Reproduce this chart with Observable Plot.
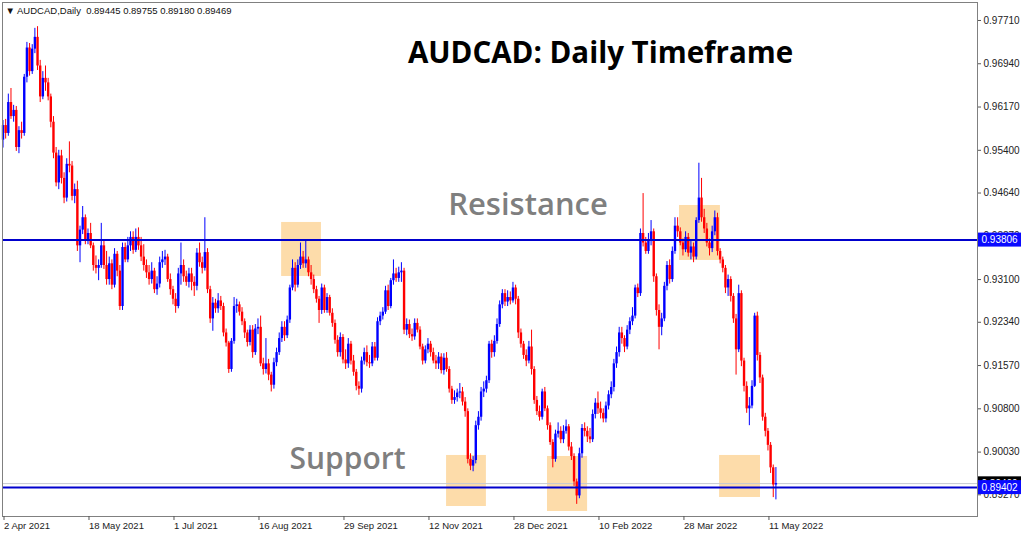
<!DOCTYPE html>
<html><head><meta charset="utf-8">
<script src="https://cdn.jsdelivr.net/npm/d3@7"></script>
<script src="https://cdn.jsdelivr.net/npm/@observablehq/plot@0.6"></script>
<style>
html,body{margin:0;padding:0;background:#fff;}
#chart{width:1024px;height:536px;overflow:hidden;}
</style></head><body><div id="chart"></div>
<script>
// ---- data (prices in pips: value / 10000) ----
const symbol = "AUDCAD,Daily";
const title = "AUDCAD: Daily Timeframe";
const labelResistance = "Resistance";
const labelSupport = "Support";

const opens = [
9558,9584,9570,9625,9600,9611,9545,9575,9570,9670,
9722,9680,9720,9741,9690,9635,9668,9660,9635,9590,
9535,9482,9530,9490,9455,9515,9512,9458,9470,9370,
9398,9420,9380,9392,9370,9335,9330,9335,9370,9335,
9310,9338,9300,9355,9325,9262,9367,9345,9370,9385,
9362,9385,9370,9350,9335,9322,9310,9325,9292,9302,
9340,9345,9350,9310,9292,9275,9262,9320,9335,9315,
9305,9320,9305,9298,9357,9340,9330,9358,9292,9240,
9268,9258,9272,9262,9215,9197,9150,9200,9262,9265,
9252,9235,9215,9198,9220,9180,9222,9225,9160,9150,
9160,9140,9122,9162,9180,9205,9225,9210,9238,9295,
9330,9300,9335,9350,9338,9345,9322,9310,9292,9275,
9255,9295,9255,9278,9250,9232,9202,9180,9207,9167,
9160,9195,9165,9145,9120,9115,9165,9180,9162,9160,
9190,9170,9235,9245,9252,9290,9262,9308,9320,9312,
9322,9325,9220,9230,9212,9208,9232,9220,9190,9165,
9185,9195,9180,9165,9160,9172,9148,9170,9150,9115,
9095,9100,9108,9110,9092,9075,8990,8978,8988,9050,
9065,9110,9115,9130,9195,9180,9200,9230,9265,9285,
9270,9278,9272,9295,9275,9215,9195,9175,9165,9190,
9150,9095,9075,9065,9110,9080,9050,9020,8990,9035,
9040,9025,9040,9048,9012,8995,8950,8925,9000,9045,
9040,9030,9025,9070,9090,9080,9072,9062,9085,9105,
9118,9160,9180,9215,9205,9190,9220,9235,9245,9295,
9285,9392,9375,9360,9380,9395,9315,9255,9225,9240,
9298,9335,9310,9360,9405,9395,9375,9363,9385,9357,
9368,9350,9415,9455,9420,9400,9375,9365,9395,9420,
9360,9345,9330,9295,9310,9280,9240,9185,9285,9165,
9120,9080,9085,9120,9245,9175,9135,9065,9040,9015,
8975,8944.5];
const highs = [
9593,9595,9640,9650,9620,9618,9582,9590,9675,9732,
9730,9728,9757,9760,9700,9680,9690,9668,9640,9600,
9545,9540,9540,9500,9525,9555,9520,9480,9485,9405,
9440,9425,9400,9410,9375,9352,9345,9410,9380,9360,
9350,9345,9365,9360,9335,9375,9375,9385,9395,9395,
9400,9402,9385,9372,9345,9335,9340,9330,9315,9350,
9360,9362,9355,9320,9298,9285,9330,9375,9345,9325,
9330,9330,9315,9365,9375,9350,9420,9365,9298,9278,
9275,9285,9280,9268,9222,9200,9205,9278,9275,9270,
9260,9240,9220,9228,9228,9230,9240,9245,9170,9205,
9168,9145,9170,9188,9215,9235,9235,9245,9300,9345,
9340,9345,9375,9360,9378,9350,9335,9318,9298,9280,
9302,9300,9285,9282,9258,9238,9210,9215,9212,9185,
9205,9200,9175,9150,9128,9172,9188,9192,9175,9198,
9198,9242,9252,9260,9298,9300,9312,9345,9330,9332,
9340,9330,9240,9238,9222,9240,9240,9226,9195,9192,
9205,9200,9188,9175,9180,9178,9178,9180,9155,9120,
9112,9115,9125,9118,9100,9080,9000,8995,9058,9075,
9118,9128,9138,9200,9202,9210,9240,9272,9292,9292,
9290,9288,9305,9300,9280,9222,9200,9185,9200,9220,
9155,9102,9085,9115,9118,9085,9055,9025,9042,9055,
9048,9050,9060,9052,9020,9000,8955,9010,9052,9055,
9048,9045,9078,9098,9110,9092,9080,9092,9112,9128,
9168,9190,9225,9225,9210,9228,9242,9260,9300,9302,
9400,9463,9385,9392,9415,9400,9320,9265,9250,9305,
9342,9345,9368,9420,9420,9402,9382,9395,9392,9378,
9375,9420,9517,9490,9435,9410,9382,9405,9432,9428,
9365,9350,9335,9318,9315,9285,9248,9300,9290,9170,
9128,9100,9130,9250,9252,9180,9140,9072,9045,9020,
8980,8975.5];
const lows = [
9544,9560,9565,9595,9590,9538,9534,9560,9565,9660,
9672,9675,9712,9682,9625,9630,9645,9628,9580,9525,
9475,9470,9480,9445,9448,9500,9450,9445,9360,9340,
9390,9372,9372,9365,9325,9320,9308,9330,9328,9300,
9300,9292,9295,9315,9255,9255,9340,9340,9360,9355,
9358,9362,9342,9325,9312,9300,9302,9285,9282,9295,
9330,9335,9305,9282,9265,9250,9258,9300,9305,9298,
9295,9290,9280,9290,9332,9320,9325,9285,9232,9218,
9250,9250,9255,9208,9190,9143,9145,9195,9250,9245,
9228,9205,9190,9192,9170,9175,9212,9155,9140,9142,
9130,9110,9115,9155,9175,9198,9200,9205,9232,9290,
9288,9295,9328,9330,9330,9315,9300,9285,9268,9232,
9248,9250,9250,9245,9225,9195,9172,9172,9160,9150,
9152,9158,9138,9112,9104,9108,9158,9155,9152,9155,
9165,9165,9228,9238,9248,9255,9258,9300,9305,9305,
9305,9212,9210,9205,9200,9202,9215,9185,9158,9160,
9178,9172,9160,9150,9150,9142,9140,9145,9108,9088,
9088,9092,9098,9085,9065,8982,8970,8968,8982,9042,
9058,9100,9108,9125,9170,9172,9195,9225,9258,9262,
9262,9265,9268,9265,9205,9188,9168,9155,9160,9140,
9088,9068,9058,9060,9075,9042,9015,8975,8985,9028,
9018,9018,9035,9005,8988,8942,8910,8920,8992,9030,
9020,9018,9020,9062,9070,9062,9055,9055,9078,9098,
9110,9152,9172,9195,9180,9185,9212,9228,9240,9278,
9280,9368,9355,9355,9370,9305,9245,9185,9210,9235,
9290,9302,9305,9355,9385,9370,9352,9358,9350,9345,
9340,9345,9410,9412,9392,9368,9352,9358,9388,9352,
9338,9322,9285,9280,9270,9232,9140,9180,9155,9110,
9072,9050,9080,9118,9165,9125,9058,9030,9005,8965,
8922,8918];
const closes = [
9584,9570,9625,9600,9611,9545,9575,9570,9670,9722,
9680,9720,9741,9690,9635,9668,9660,9635,9590,9535,
9482,9530,9490,9455,9515,9512,9458,9470,9370,9398,
9420,9380,9392,9370,9335,9330,9335,9370,9335,9310,
9338,9300,9355,9325,9262,9367,9345,9370,9385,9362,
9385,9370,9350,9335,9322,9310,9325,9292,9302,9340,
9345,9350,9310,9292,9275,9262,9320,9335,9315,9305,
9320,9305,9298,9357,9340,9330,9358,9292,9240,9268,
9258,9272,9262,9215,9197,9150,9200,9262,9265,9252,
9235,9215,9198,9220,9180,9222,9225,9160,9150,9160,
9140,9122,9162,9180,9205,9225,9210,9238,9295,9330,
9300,9335,9350,9338,9345,9322,9310,9292,9275,9255,
9295,9255,9278,9250,9232,9202,9180,9207,9167,9160,
9195,9165,9145,9120,9115,9165,9180,9162,9160,9190,
9170,9235,9245,9252,9290,9262,9308,9320,9312,9322,
9325,9220,9230,9212,9208,9232,9220,9190,9165,9185,
9195,9180,9165,9160,9172,9148,9170,9150,9115,9095,
9100,9108,9110,9092,9075,8990,8978,8988,9050,9065,
9110,9115,9130,9195,9180,9200,9230,9265,9285,9270,
9278,9272,9295,9275,9215,9195,9175,9165,9190,9150,
9095,9075,9065,9110,9080,9050,9020,8990,9035,9040,
9025,9040,9048,9012,8995,8950,8925,9000,9045,9040,
9030,9025,9070,9090,9080,9072,9062,9085,9105,9118,
9160,9180,9215,9205,9190,9220,9235,9245,9295,9285,
9392,9375,9360,9380,9395,9315,9255,9225,9240,9298,
9335,9310,9360,9405,9395,9375,9363,9385,9357,9368,
9350,9415,9455,9420,9400,9375,9365,9395,9420,9360,
9345,9330,9295,9310,9280,9240,9185,9285,9165,9120,
9080,9085,9120,9245,9175,9135,9065,9040,9015,8975,
8944.5,8946.9];

// x-axis: bar index of each date label
const tickIdx = [0, 32, 64, 96, 128, 160, 192, 224, 256, 288];
const dateLabels = ["2 Apr 2021","18 May 2021","1 Jul 2021","16 Aug 2021","29 Sep 2021",
                    "12 Nov 2021","28 Dec 2021","10 Feb 2022","28 Mar 2022","11 May 2022"];
const yTicks = [0.97710,0.96940,0.96170,0.95400,0.94640,0.93870,0.93100,0.92340,0.91570,0.90800,0.90030,0.89270];

const resistance = 0.93806;
const support = 0.89402;
const bid = 0.89469;

// highlighted zones: bar-index span and price span
const zoneStart = [104.9, 254.7, 167.0, 205.0, 269.8];
const zoneEnd   = [119.9, 270.1, 182.0, 220.1, 285.2];
const zoneTop   = [0.94116, 0.94418, 0.89970, 0.89952, 0.89970];
const zoneBottom= [0.93155, 0.93440, 0.89062, 0.88973, 0.89222];

// ---- build tables ----
const bars = closes.map((c, i) => ({
  i, open: opens[i] / 1e4, high: highs[i] / 1e4, low: lows[i] / 1e4, close: c / 1e4
}));
const zones = zoneStart.map((s, k) => ({i1: s, i2: zoneEnd[k], p1: zoneTop[k], p2: zoneBottom[k]}));
const last = bars[bars.length - 1];
const fmt = d3.format(".5f");
const header = `\u25BC ${symbol}  ${fmt(last.open)} ${fmt(last.high)} ${fmt(last.low)} ${fmt(last.close)}`;
const tags = [resistance, bid, support];
const tagFill = ["#0a0aff", "#000000", "#0a0aff"];
const upColor = "#0000ff", downColor = "#ff0000";
const candleColor = d => d.close >= d.open ? upColor : downColor;
const dateOf = new Map(tickIdx.map((t, k) => [t, dateLabels[k]]));

const chart = Plot.plot({
  width: 1024, height: 536,
  marginTop: 2, marginRight: 47, marginBottom: 20, marginLeft: 2,
  style: {fontFamily: "'Liberation Sans', Arial, sans-serif", fontSize: "10px", background: "#fff", overflow: "visible"},
  x: {type: "linear", domain: [-0.19, 366.9]},
  y: {type: "linear", domain: [0.88884, 0.98030]},
  marks: [
    Plot.rect(zones, {x1: "i1", x2: "i2", y1: "p1", y2: "p2", fill: "#fddcaa"}),
    Plot.ruleY([bid], {stroke: "#c4c8d0", strokeWidth: 1}),
    Plot.ruleX(bars, {x: "i", y1: "low", y2: "high", stroke: candleColor, strokeWidth: 1}),
    Plot.ruleX(bars, {x: "i", y1: "open", y2: "close", stroke: candleColor, strokeWidth: 2.4}),
    Plot.ruleY([resistance, support], {stroke: "#0000cd", strokeWidth: 2}),
    Plot.frame({stroke: "#808080"}),
    Plot.axisX(tickIdx, {anchor: "bottom", tickSize: 4, tickPadding: 2, textAnchor: "start", dx: 1,
      tickFormat: d => dateOf.get(d), fontSize: 9.5, fill: "#222", stroke: "#555"}),
    Plot.axisY(yTicks, {anchor: "right", tickSize: 3, tickPadding: 3, textAnchor: "start",
      tickFormat: fmt, fontSize: 10, fill: "#222", stroke: "#555"}),
    Plot.text([header], {frameAnchor: "top-left", lineAnchor: "middle", dx: 3, dy: 8, textAnchor: "start",
      fontSize: 9.5, fill: "#111"}),
    Plot.text([title], {frameAnchor: "top-left", lineAnchor: "middle", dx: 598, dy: 51, textAnchor: "middle",
      fontSize: 29.5, fontWeight: 700, fontFamily: "'Open Sans', sans-serif", fill: "#000"}),
    Plot.text([labelResistance], {frameAnchor: "top-left", lineAnchor: "middle", dx: 525.5, dy: 203,
      textAnchor: "middle", fontSize: 31, fontWeight: 600, fontFamily: "'Open Sans', sans-serif", fill: "#7f7f7f"}),
    Plot.text([labelSupport], {frameAnchor: "top-left", lineAnchor: "middle", dx: 345, dy: 457,
      textAnchor: "middle", fontSize: 30, fontWeight: 600, fontFamily: "'Open Sans', sans-serif", fill: "#7f7f7f"}),
    Plot.text(tags, {y: d => d, text: d => fmt(d), frameAnchor: "right", dx: 4, textAnchor: "start",
      fill: "#ffffff", fontSize: 10, ariaDescription: "price-tag"})
  ]
});

document.getElementById("chart").append(chart);

// background boxes behind the price tags
const tagTexts = Array.from(chart.querySelectorAll("text"))
  .filter(t => tags.map(fmt).includes(t.textContent) && t.closest("g") &&
    (t.closest("g").getAttribute("aria-description") === "price-tag" ||
     (t.closest("g").getAttribute("fill") || "").toLowerCase() === "#ffffff"));
tagTexts.forEach((t) => {
  const k = tags.map(fmt).indexOf(t.textContent);
  const b = t.getBBox();
  const r = document.createElementNS("http://www.w3.org/2000/svg", "rect");
  const tr = t.getAttribute("transform");
  if (tr) r.setAttribute("transform", tr);
  r.setAttribute("x", b.x - 3.5);
  r.setAttribute("y", b.y - 1.5);
  r.setAttribute("width", 43);
  r.setAttribute("height", b.height + 3);
  r.setAttribute("fill", tagFill[k]);
  t.parentNode.insertBefore(r, t);
});
</script>
</body></html>
